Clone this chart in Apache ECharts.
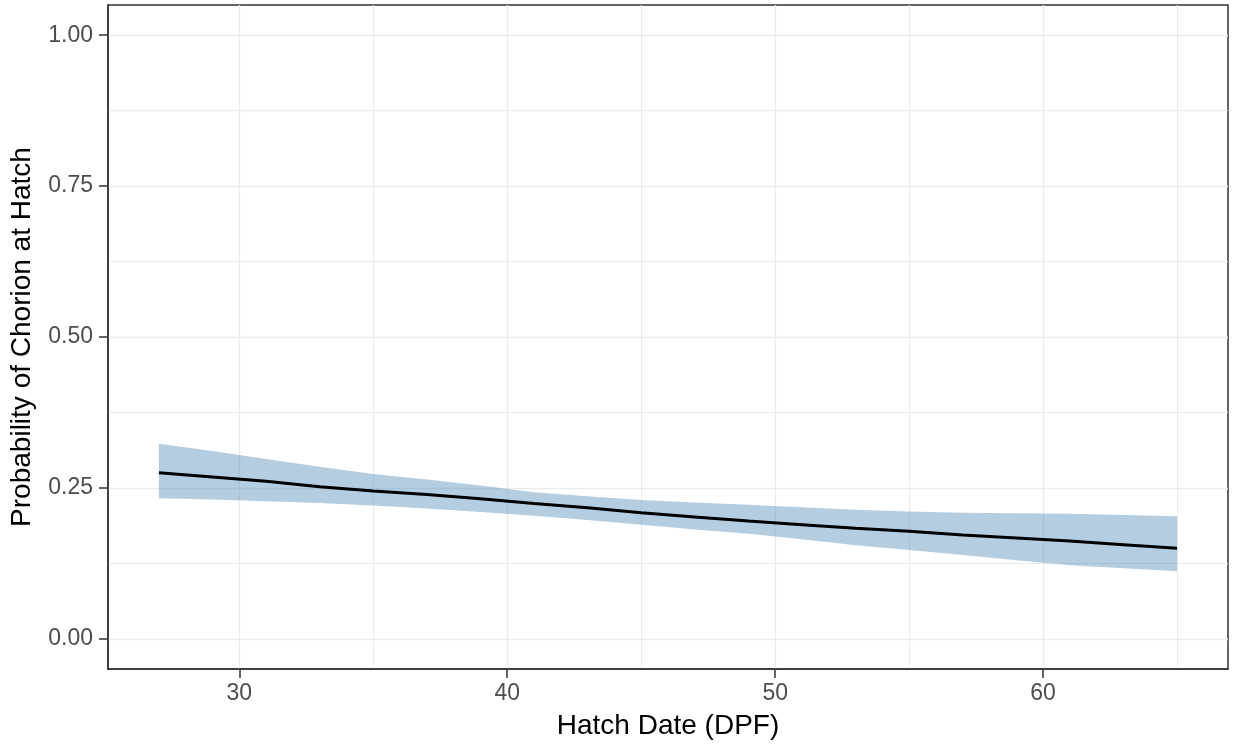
<!DOCTYPE html>
<html>
<head>
<meta charset="utf-8">
<script src="https://cdn.jsdelivr.net/npm/echarts@6/dist/echarts.min.js"></script>
<style>
  html, body { margin: 0; padding: 0; background: #fff; }
  #chart { width: 1233px; height: 748px; }
</style>
</head>
<body>
<div id="chart"></div>
<script>
// hatch date (days post fertilisation)
const hatchDays = [27, 29, 31, 33, 35, 37, 39, 41, 43, 45, 47, 49, 51, 53, 55, 57, 59, 61, 63, 65]
// fitted probability and its confidence band
const fitProb = [0.275, 0.268, 0.261, 0.252, 0.245, 0.239, 0.232, 0.224, 0.217, 0.209,
  0.202, 0.195, 0.189, 0.183, 0.178, 0.172, 0.167, 0.162, 0.156, 0.150]
const upperProb = [0.323, 0.311, 0.298, 0.285, 0.273, 0.264, 0.254, 0.243, 0.236, 0.230,
  0.226, 0.222, 0.218, 0.214, 0.211, 0.209, 0.208, 0.207, 0.205, 0.203]
const lowerProb = [0.233, 0.231, 0.228, 0.225, 0.221, 0.216, 0.210, 0.204, 0.197, 0.189,
  0.181, 0.174, 0.165, 0.155, 0.147, 0.139, 0.130, 0.122, 0.117, 0.112]

const xMajor = [30, 40, 50, 60]
const xMinor = [35, 45, 55, 65]
const yMajor = [0, 0.25, 0.5, 0.75, 1]
const yMinor = [0.125, 0.375, 0.625, 0.875]

const chart = echarts.init(document.getElementById('chart'), null, { renderer: 'canvas' })

const fontFamily = '"Liberation Sans", Arial, sans-serif'
const gridColor = '#EBEBEB'
const frameColor = '#333333'

// band polygon: upper edge left->right, lower edge right->left
function renderBand(params, api) {
  if (params.dataIndex !== 0) return
  const pts = []
  for (let i = 0; i < hatchDays.length; i++) pts.push(api.coord([hatchDays[i], upperProb[i]]))
  for (let i = hatchDays.length - 1; i >= 0; i--) pts.push(api.coord([hatchDays[i], lowerProb[i]]))
  return {
    type: 'polygon',
    shape: { points: pts },
    style: { fill: 'rgba(70,130,180,0.4)', stroke: null }
  }
}

const option = {
  animation: false,
  backgroundColor: '#fff',
  grid: {
    left: 107, right: 5, top: 5, bottom: 79,
    show: true, borderColor: frameColor, borderWidth: 1.5,
    backgroundColor: 'transparent'
  },
  xAxis: [
    {
      type: 'value', min: 25.1, max: 66.9, position: 'bottom',
      name: 'Hatch Date (DPF)', nameLocation: 'middle', nameGap: 43,
      nameTextStyle: { fontFamily, fontSize: 28, color: '#000' },
      axisLine: { show: true, onZero: false, lineStyle: { color: frameColor, width: 1.5 } },
      axisTick: {
        show: true, inside: false, length: 9, customValues: xMajor,
        lineStyle: { color: frameColor, width: 1.5 }
      },
      axisLabel: { customValues: xMajor, margin: 13, fontFamily, fontSize: 23, color: '#4D4D4D' },
      splitLine: { show: true, lineStyle: { color: gridColor, width: 1.4 } }
    },
    {
      type: 'value', min: 25.1, max: 66.9, position: 'top',
      axisLine: { show: false, onZero: false },
      axisTick: { show: false, customValues: xMinor },
      axisLabel: { show: false },
      splitLine: { show: true, lineStyle: { color: gridColor, width: 1 } }
    }
  ],
  yAxis: [
    {
      type: 'value', min: -0.05, max: 1.05, position: 'left',
      name: 'Probability of Chorion at Hatch', nameLocation: 'middle', nameGap: 72,
      nameTextStyle: { fontFamily, fontSize: 28, color: '#000' },
      axisLine: { show: true, onZero: false, lineStyle: { color: frameColor, width: 1.5 } },
      axisTick: {
        show: true, inside: false, length: 9, customValues: yMajor,
        lineStyle: { color: frameColor, width: 1.5 }
      },
      axisLabel: {
        customValues: yMajor, margin: 15, fontFamily, fontSize: 23, color: '#4D4D4D',
        formatter: v => v.toFixed(2)
      },
      splitLine: { show: true, lineStyle: { color: gridColor, width: 1.4 } }
    },
    {
      type: 'value', min: -0.05, max: 1.05, position: 'right',
      axisLine: { show: false, onZero: false },
      axisTick: { show: false, customValues: yMinor },
      axisLabel: { show: false },
      splitLine: { show: true, lineStyle: { color: gridColor, width: 1 } }
    }
  ],
  series: [
    {
      type: 'custom',
      name: 'ci',
      renderItem: renderBand,
      data: hatchDays.map((d, i) => [d, upperProb[i]]),
      encode: { x: 0, y: 1 },
      z: 2
    },
    {
      type: 'line',
      name: 'fit',
      data: hatchDays.map((d, i) => [d, fitProb[i]]),
      showSymbol: false,
      lineStyle: { color: '#000', width: 3 },
      z: 3
    }
  ]
}

chart.setOption(option)
</script>
</body>
</html>
